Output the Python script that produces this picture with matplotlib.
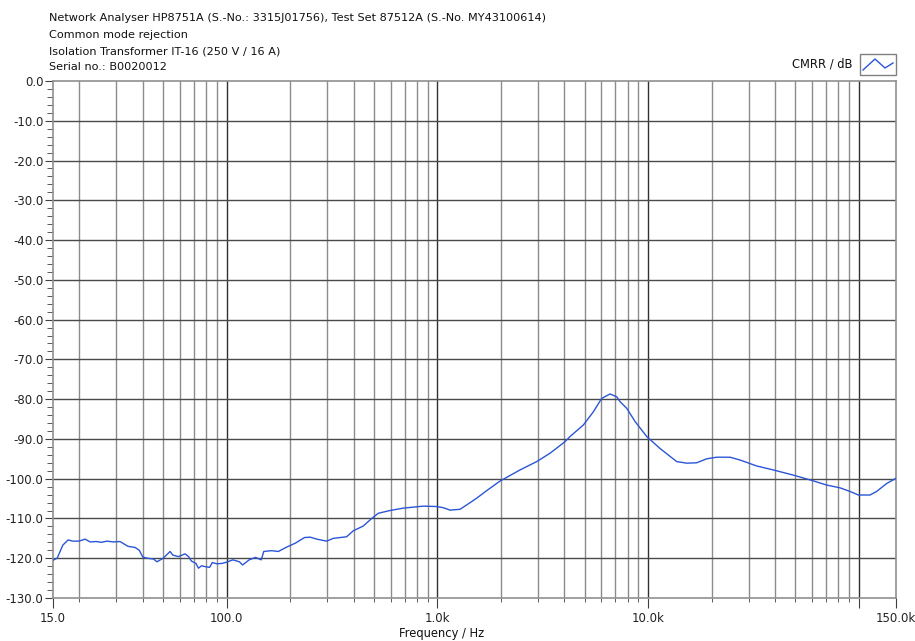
import matplotlib
matplotlib.use("Agg")
import matplotlib.pyplot as plt
from matplotlib.lines import Line2D
from matplotlib.patches import Rectangle
from matplotlib.ticker import FixedLocator, NullFormatter

plt.rcParams["font.family"] = "DejaVu Sans"
plt.rcParams["axes.unicode_minus"] = False

# header lines
header = [
    "Network Analyser HP8751A (S.-No.: 3315J01756), Test Set 87512A (S.-No. MY43100614)",
    "Common mode rejection",
    "Isolation Transformer IT-16 (250 V / 16 A)",
    "Serial no.: B0020012",
]
series_name = "CMRR / dB"

freq_hz = [
    15, 15.7, 16.7, 17.7, 18.6, 19.9, 21.3, 22.5, 24, 25.5, 27, 29, 31.2,
    34, 36.8, 38.5, 40, 42, 45, 46.7, 50, 53.9, 55.5, 59, 63.5, 66, 68,
    71.5, 73.5, 76, 79, 83, 85.5, 90, 95, 100, 107, 115, 119, 128, 137,
    146, 150, 163, 176, 191, 212, 234, 249, 268, 298, 321, 371, 399, 445,
    488, 524, 596, 689, 858, 993, 1067, 1148, 1280, 1377, 1536, 1714,
    1982, 2466, 2961, 3423, 4032, 4258, 4926, 5494, 6021, 6592, 7092,
    7350, 7914, 8665, 9846, 11386, 13665, 15240, 17000, 18960, 21150,
    24460, 27280, 32740, 39250, 48840, 58620, 70370, 81370, 90750, 99360,
    112900, 121450, 135500, 150000,
]
cmrr_db = [
    -120.5, -120.0, -116.7, -115.4, -115.7, -115.7, -115.2, -115.9, -115.8,
    -116.0, -115.7, -115.9, -115.8, -117.0, -117.3, -118.0, -119.7, -120.0,
    -120.2, -120.9, -120.0, -118.3, -119.2, -119.6, -118.9, -119.6, -120.7,
    -121.3, -122.5, -121.9, -122.1, -122.3, -121.1, -121.4, -121.3, -121.0,
    -120.4, -120.9, -121.7, -120.4, -119.8, -120.4, -118.3, -118.1, -118.3,
    -117.3, -116.2, -114.8, -114.7, -115.2, -115.7, -115.0, -114.6, -113.1,
    -111.9, -110.0, -108.7, -108.0, -107.4, -106.9, -107.0, -107.3, -107.9,
    -107.7, -106.6, -104.9, -103.0, -100.6, -97.8, -95.7, -93.6, -90.7,
    -89.4, -86.5, -83.2, -79.8, -78.7, -79.4, -80.6, -82.3, -85.6, -89.4,
    -92.4, -95.7, -96.1, -96.0, -95.0, -94.6, -94.6, -95.3, -96.8, -97.8,
    -99.1, -100.3, -101.6, -102.3, -103.2, -104.1, -104.1, -103.2, -101.2,
    -99.9,
]

x_major = [15, 100, 1000, 10000, 100000, 150000]
x_labels = ["15.0", "100.0", "1.0k", "10.0k", "", "150.0k"]
y_major = list(range(-130, 1, 10))

fig = plt.figure(figsize=(9.15, 6.41), dpi=100)
ax = fig.add_axes([53 / 915, 1 - 598 / 641, 843 / 915, 517 / 641])

ax.set_xscale("log")
ax.set_xlim(15, 150000)
ax.set_ylim(-130, 0)

# grid lines
minor_x = [m * 10 ** d for d in range(1, 6) for m in range(2, 10)
           if 15 < m * 10 ** d < 150000]
for fx in minor_x:
    ax.axvline(fx, color="#8c8c8c", lw=1.0, zorder=1)
for fx in [100, 1000, 10000, 100000]:
    ax.axvline(fx, color="#303030", lw=1.0, zorder=1)
for fy in y_major[1:-1]:
    ax.axhline(fy, color="#4a4a4a", lw=1.0, zorder=1)

ax.plot(freq_hz, cmrr_db, color="#2b55d6", lw=1.0, zorder=3)

ax.xaxis.set_major_locator(FixedLocator(x_major))
ax.set_xticklabels(x_labels)
ax.xaxis.set_minor_locator(FixedLocator(minor_x))
ax.xaxis.set_minor_formatter(NullFormatter())
ax.set_yticks(y_major)
ax.set_yticklabels(["%.1f" % v if v != 0 else "0.0" for v in y_major])
ax.yaxis.set_minor_locator(FixedLocator([v for v in range(-130, 1, 2) if v % 10]))

ax.tick_params(axis="both", which="major", labelsize=8.5, color="#404040",
               labelcolor="#222222")
ax.tick_params(axis="x", which="major", length=7, pad=3)
ax.tick_params(axis="x", which="minor", length=3, color="#404040")
ax.tick_params(axis="y", which="major", length=6, pad=1)
ax.tick_params(axis="y", which="minor", length=4, color="#404040")

for sp in ax.spines.values():
    sp.set_color("#909090")
    sp.set_linewidth(1.2)

# header text
for i, line in enumerate(header):
    fig.text(49 / 915, 1 - (18 + 16.5 * i) / 641, line, fontsize=8.1,
             va="center", ha="left", color="#111111")

fig.text(442 / 915, 1 - 633 / 641, "Frequency / Hz", fontsize=8.3,
         ha="center", va="center", color="#111111")

# legend
fig.text(852 / 915, 1 - 64 / 641, series_name, fontsize=8.3, ha="right",
         va="center", color="#111111")
fig.add_artist(Rectangle((860 / 915, 1 - 75 / 641), 36 / 915, 21 / 641,
                         transform=fig.transFigure, fill=False,
                         edgecolor="#808080", lw=1.0))
fig.add_artist(Line2D([863 / 915, 875 / 915, 885 / 915, 893 / 915],
                      [1 - 70 / 641, 1 - 59 / 641, 1 - 68 / 641, 1 - 63 / 641],
                      transform=fig.transFigure, color="#2b55d6", lw=1.0))

fig.savefig("out.png", dpi=100)
